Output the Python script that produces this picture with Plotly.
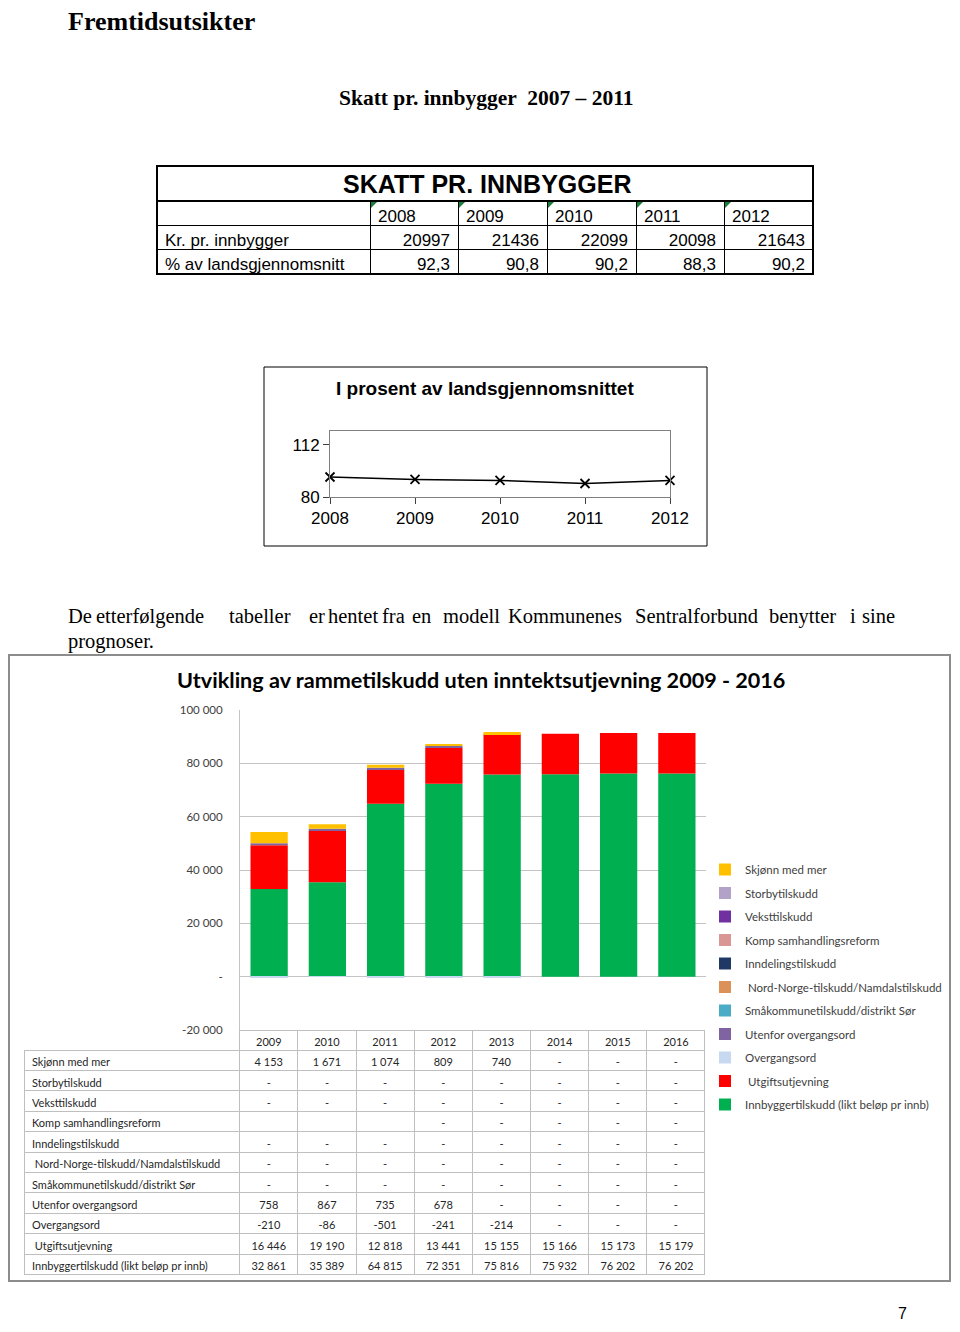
import plotly.graph_objects as go

OFF = 8  # siden har 8 px body-marg; figuren gjores mindre og alt forskyves
W, H = 960 - OFF, 1332 - 2 * OFF

# ── Skatt pr. innbygger (tabell + linjediagram) ──
aar_skatt = [2008, 2009, 2010, 2011, 2012]
kr_pr_innbygger = [20997, 21436, 22099, 20098, 21643]
pst_av_landet = [92.3, 90.8, 90.2, 88.3, 90.2]

# ── Rammetilskudd 2009 - 2016 ──
aar_ramme = ["2009", "2010", "2011", "2012", "2013", "2014", "2015", "2016"]
skjonn = [4153, 1671, 1074, 809, 740, 0, 0, 0]
storby = [0, 0, 0, 0, 0, 0, 0, 0]
vekst = [0, 0, 0, 0, 0, 0, 0, 0]
komp_samhandling = [None, None, None, 0, 0, 0, 0, 0]
inndeling = [0, 0, 0, 0, 0, 0, 0, 0]
nord_norge = [0, 0, 0, 0, 0, 0, 0, 0]
smakommune = [0, 0, 0, 0, 0, 0, 0, 0]
utenfor_overgang = [758, 867, 735, 678, 0, 0, 0, 0]
overgangsordning = [-210, -86, -501, -241, -214, 0, 0, 0]
utgiftsutjevning = [16446, 19190, 12818, 13441, 15155, 15166, 15173, 15179]
innbyggertilskudd = [32861, 35389, 64815, 72351, 75816, 75932, 76202, 76202]

# rekkefolge som i tabellen (ovenfra og ned)
serier = [
    ("Skjønn med mer", skjonn, "#FFC000"),
    ("Storbytilskudd", storby, "#B3A2C7"),
    ("Veksttilskudd", vekst, "#7030A0"),
    ("Komp samhandlingsreform", komp_samhandling, "#D99694"),
    ("Inndelingstilskudd", inndeling, "#1F3864"),
    ("\u00a0Nord-Norge-tilskudd/Namdalstilskudd", nord_norge, "#DB9157"),
    ("Småkommunetilskudd/distrikt Sør", smakommune, "#4BACC6"),
    ("Utenfor overgangsord", utenfor_overgang, "#8064A2"),
    ("Overgangsord", overgangsordning, "#C6D9F1"),
    ("\u00a0Utgiftsutjevning", utgiftsutjevning, "#FF0000"),
    ("Innbyggertilskudd (likt beløp pr innb)", innbyggertilskudd, "#00B050"),
]

SERIF = "Liberation Serif, Times New Roman, serif"
ARIAL = "Liberation Sans, Arial, sans-serif"
CALI = "Lato, Open Sans, sans-serif"


def px(x):
    return (x - OFF) / W


def py(y):
    return 1 - (y - OFF) / H


def fmt(v):
    if v is None:
        return ""
    if v == 0:
        return "-"
    return f"{v:,}".replace(",", " ")


fig = go.Figure()

# ── Tabell 1 ──
fig.add_trace(go.Table(
    domain=dict(x=[px(157), px(813)], y=[py(276), py(201)]),
    columnwidth=[213, 88, 89, 89, 88, 89],
    header=dict(
        values=[""] + [str(a) for a in aar_skatt],
        align="left", height=24,
        font=dict(family=ARIAL, size=17, color="black"),
        line=dict(color="black", width=1), fill=dict(color="white"),
    ),
    cells=dict(
        values=[["Kr. pr. innbygger", "% av landsgjennomsnitt"]]
        + [[str(k), f"{p:.1f}".replace(".", ",")]
           for k, p in zip(kr_pr_innbygger, pst_av_landet)],
        align=["left"] + ["right"] * 5, height=24.5,
        font=dict(family=ARIAL, size=17, color="black"),
        line=dict(color="black", width=1), fill=dict(color="white"),
    ),
))

# ── Linjediagram: i prosent av landsgjennomsnittet ──
fig.add_trace(go.Scatter(
    x=aar_skatt, y=pst_av_landet, mode="lines+markers", cliponaxis=False,
    line=dict(color="black", width=1.5),
    marker=dict(symbol="x-thin", size=9, line=dict(color="black", width=1.8)),
    xaxis="x2", yaxis="y2", showlegend=False, hoverinfo="x+y",
))

# ── Stablet stolpediagram ──
n = len(serier)
for i, (navn, verdier, farge) in enumerate(reversed(serier)):
    fig.add_trace(go.Bar(
        x=aar_ramme, y=verdier, name=navn, marker=dict(color=farge, line=dict(width=0)),
        legendgroup=f"g{i}", legendrank=n - i, xaxis="x", yaxis="y",
    ))

# ── Tabell 2 ──
kol = [[navn for navn, _, _ in serier]]
for j in range(len(aar_ramme)):
    kol.append([fmt(v[j]) for _, v, _ in serier])

fig.add_trace(go.Table(
    domain=dict(x=[px(24), px(706)], y=[py(1278), py(1030)]),
    columnwidth=[216] + [58.25] * 8,
    header=dict(
        values=[""] + aar_ramme, align="center", height=20,
        font=dict(family=CALI, size=11, color="#262626"),
        line=dict(color=["rgba(0,0,0,0)"] + ["#bfbfbf"] * 8, width=1),
        fill=dict(color=["rgba(0,0,0,0)"] + ["white"] * 8),
    ),
    cells=dict(
        values=kol, align=["left"] + ["center"] * 8, height=20.4,
        font=dict(family=CALI, size=11, color="#262626"),
        line=dict(color="#bfbfbf", width=1), fill=dict(color="white"),
    ),
))

ytikk = [-20000, 0, 20000, 40000, 60000, 80000, 100000]

fig.update_layout(
    width=W, height=H, margin=dict(l=0, r=0, t=0, b=0, autoexpand=False),
    paper_bgcolor="white", plot_bgcolor="white",
    barmode="relative", bargap=0.36,
    xaxis=dict(domain=[px(240), px(706)], showticklabels=False, ticks="",
               showgrid=False, showline=False, zeroline=False, automargin=False),
    yaxis=dict(domain=[py(1030), py(710)], range=[-20000, 100000],
               tickvals=ytikk, ticktext=[fmt(v) if v else "-" for v in ytikk],
               tickfont=dict(family=CALI, size=11.5, color="#404040"),
               ticklabelstandoff=14, showgrid=True, gridcolor="#c4c4c4",
               showline=True, linecolor="#c4c4c4", zeroline=False, automargin=False),
    xaxis2=dict(domain=[px(330), px(670)], range=[2008, 2012],
                tickvals=aar_skatt, ticks="outside", ticklen=6, tickcolor="#404040",
                tickfont=dict(family=ARIAL, size=17, color="black"),
                showline=True, linecolor="#7f7f7f", mirror=True, showgrid=False,
                zeroline=False, anchor="y2", automargin=False),
    yaxis2=dict(domain=[py(497), py(431)], range=[80, 120.6],
                tickvals=[80, 112], ticks="outside", ticklen=6, tickcolor="#404040",
                tickfont=dict(family=ARIAL, size=17, color="black"),
                showline=True, linecolor="#7f7f7f", mirror=True, showgrid=False,
                zeroline=False, anchor="x2", automargin=False),
    legend=dict(x=px(705), y=py(855), xanchor="left", yanchor="top",
                traceorder="grouped", tracegroupgap=4.5,
                font=dict(family=CALI, size=11.5, color="#404040"),
                bgcolor="rgba(0,0,0,0)", itemclick=False),
    showlegend=True,
)

P = dict(xref="paper", yref="paper")
shapes = [
    # tabell 1 tittelrad og ytre ramme
    dict(type="rect", x0=px(157), x1=px(813), y0=py(201), y1=py(166),
         line=dict(color="black", width=2), **P),
    dict(type="rect", x0=px(157), x1=px(813), y0=py(274), y1=py(166),
         line=dict(color="black", width=2), **P),
    # ramme rundt linjediagram
    dict(type="rect", x0=px(264), x1=px(707), y0=py(546), y1=py(367),
         line=dict(color="black", width=1), **P),
    # ramme rundt stolpediagram
    dict(type="rect", x0=px(9), x1=px(950), y0=py(1281), y1=py(655),
         line=dict(color="#8c8c8c", width=2), **P),
]
# gronne hjorner i aarscellene
for x0 in [370, 458, 547, 636, 724]:
    shapes.append(dict(
        type="path", fillcolor="#1a7f3c", line=dict(width=0), **P,
        path=f"M {px(x0 + 1)} {py(202)} L {px(x0 + 7)} {py(202)} L {px(x0 + 1)} {py(208)} Z",
    ))
fig.update_layout(shapes=shapes)


def tekst(x, y, t, size, family, bold=False, anchor="left", color="black"):
    fig.add_annotation(
        x=px(x), y=py(y), xref="paper", yref="paper", text=f"<b>{t}</b>" if bold else t,
        showarrow=False, xanchor=anchor, yanchor="middle",
        font=dict(family=family, size=size, color=color),
    )


tekst(66, 22, "Fremtidsutsikter", 26, SERIF, bold=True)
tekst(486, 98, "Skatt pr. innbygger  2007 – 2011", 21.5, SERIF, bold=True, anchor="center")
tekst(487, 184, "SKATT PR. INNBYGGER", 25, ARIAL, bold=True, anchor="center")
tekst(485, 389, "I prosent av landsgjennomsnittet", 19, ARIAL, bold=True, anchor="center")

ord_linje = [(66, "De"), (94, "etterfølgende"), (227, "tabeller"), (307, "er"),
             (326, "hentet"), (380, "fra"), (410, "en"), (441, "modell"),
             (506, "Kommunenes"), (633, "Sentralforbund"), (767, "benytter"),
             (848, "i"), (860, "sine")]
for x, w in ord_linje:
    tekst(x, 616, w, 20.5, SERIF)
tekst(66, 642, "prognoser.", 20.5, SERIF)

tekst(481, 680, "Utvikling av rammetilskudd uten inntektsutjevning 2009 - 2016", 21.6, CALI,
      bold=True, anchor="center")
tekst(902, 1313, "7", 16, ARIAL, anchor="center")

fig.write_html("out.html")
